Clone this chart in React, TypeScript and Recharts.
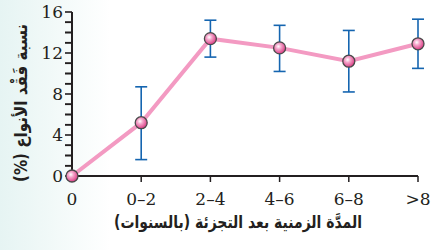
import React from 'react';
import { LineChart, Line, XAxis, YAxis, ErrorBar } from 'recharts';

const categories = ['0', '0–2', '2–4', '4–6', '6–8', '>8'];
const lossValues = [0, 5.2, 13.4, 12.5, 11.2, 12.9];
const errLower = [null, 1.6, 11.6, 10.2, 8.2, 10.5];
const errUpper = [null, 8.7, 15.2, 14.7, 14.2, 15.3];
const yMax = 16;
const yMajorTicks = [0, 4, 8, 12, 16];
const yMinorTicks = [1, 2, 3, 5, 6, 7, 9, 10, 11, 13, 14, 15];

const xTitle = 'المدَّة الزمنية بعد التجزئة (بالسنوات)';
const yTitle = 'نسبة فَقْد الأنواع (%)';

const data = categories.map((c, i) => ({
  cat: c,
  value: lossValues[i],
  err:
    errLower[i] == null
      ? undefined
      : [lossValues[i] - (errLower[i] as number), (errUpper[i] as number) - lossValues[i]],
}));

const AXIS = '#231f20';
const NUM_FONT = 'DejaVu Serif';
const AR_FONT = 'DejaVu Sans';
const Y_TICK_SIZE = 7;
const Y_TICK_MARGIN = 2;

// Minor y tick marks, positioned with the line's own scaled points (value 0 sits on the axis origin)
const MinorTicks = ({ points }: any) => {
  if (!Array.isArray(points) || points.length < 2) return null;
  const origin = points[0];
  const ref = points.reduce((a: any, b: any) => (Number(b.value) > Number(a.value) ? b : a), points[0]);
  const v = Number(ref.value);
  if (!(v > 0)) return null;
  const pxPerUnit = (origin.y - ref.y) / v;
  return (
    <g>
      {yMinorTicks.map((k) => {
        const ty = origin.y - k * pxPerUnit;
        return (
          <line key={k} x1={origin.x - Y_TICK_SIZE} x2={origin.x} y1={ty} y2={ty} stroke={AXIS} strokeWidth={1.6} />
        );
      })}
    </g>
  );
};

const Dot = (props: any) => {
  const { cx, cy, index, points } = props;
  if (cx == null || cy == null) return null;
  return (
    <g>
      {index === 0 ? <MinorTicks points={points} /> : null}
      <circle cx={cx} cy={cy} r={6} fill="url(#dotGrad)" stroke="#4a4a4a" strokeWidth={1.3} />
    </g>
  );
};

const XTitle = (props: any) => {
  const vb = props.viewBox;
  return (
    <text
      x={vb.x + vb.width / 2 - 7}
      y={222}
      textAnchor="middle"
      dominantBaseline="central"
      fontFamily={AR_FONT}
      fontWeight="bold"
      fontSize={17}
      fill={AXIS}
      direction="rtl"
      textLength={248}
      lengthAdjust="spacingAndGlyphs"
    >
      {xTitle}
    </text>
  );
};

const YTitle = (props: any) => {
  const vb = props.viewBox || {};
  const cx = 21;
  const cy = 103;
  const axisX = Number(vb.x) + Number(vb.width);
  const hasBox = isFinite(axisX) && isFinite(Number(vb.y)) && isFinite(Number(vb.height));
  return (
    <g>
      {hasBox
        ? yMinorTicks.map((k) => {
            const ty = vb.y + vb.height * (1 - k / yMax);
            return (
              <line key={k} x1={axisX - Y_TICK_SIZE} x2={axisX} y1={ty} y2={ty} stroke={AXIS} strokeWidth={1.6} />
            );
          })
        : null}
      <text
        x={cx}
        y={cy}
        transform={`rotate(-90, ${cx}, ${cy})`}
        textAnchor="middle"
        dominantBaseline="central"
        fontFamily={AR_FONT}
        fontWeight="bold"
        fontSize={17}
        fill={AXIS}
        direction="rtl"
        textLength={158}
        lengthAdjust="spacingAndGlyphs"
      >
        {yTitle}
      </text>
    </g>
  );
};

export default function App() {
  return (
    <div
      style={{
        position: 'absolute',
        left: 0,
        top: 0,
        width: 438,
        height: 250,
        background: 'linear-gradient(to right, #e6f4f3 0px, #f1f9f8 50px, #ffffff 110px)',
      }}
    >
      <LineChart width={438} height={250} data={data} margin={{ top: 12, right: 20, left: 0, bottom: 0 }}>
        <defs>
          <radialGradient id="dotGrad" cx="40%" cy="38%" r="65%">
            <stop offset="0%" stopColor="#ffffff" />
            <stop offset="35%" stopColor="#f5a6cb" />
            <stop offset="100%" stopColor="#d8357f" />
          </radialGradient>
        </defs>
        <XAxis
          dataKey="cat"
          height={74}
          interval={0}
          tickSize={6}
          tickMargin={11}
          axisLine={{ stroke: AXIS, strokeWidth: 2 }}
          tickLine={{ stroke: AXIS, strokeWidth: 1.5 }}
          tick={{ fill: AXIS, fontFamily: NUM_FONT, fontSize: 17 }}
          label={<XTitle />}
        />
        <YAxis
          width={72}
          domain={[0, yMax]}
          ticks={yMajorTicks}
          interval={0}
          tickSize={Y_TICK_SIZE}
          tickMargin={Y_TICK_MARGIN}
          axisLine={{ stroke: AXIS, strokeWidth: 2 }}
          tickLine={{ stroke: AXIS, strokeWidth: 1.6 }}
          tick={{ fill: AXIS, fontFamily: NUM_FONT, fontSize: 17 }}
          label={<YTitle />}
        />
        <Line
          dataKey="value"
          stroke="#f39ac2"
          strokeWidth={4}
          dot={<Dot />}
          activeDot={false}
          isAnimationActive={false}
        >
          <ErrorBar dataKey="err" width={6} stroke="#1565b0" strokeWidth={1.6} direction="y" />
        </Line>
      </LineChart>
    </div>
  );
}
